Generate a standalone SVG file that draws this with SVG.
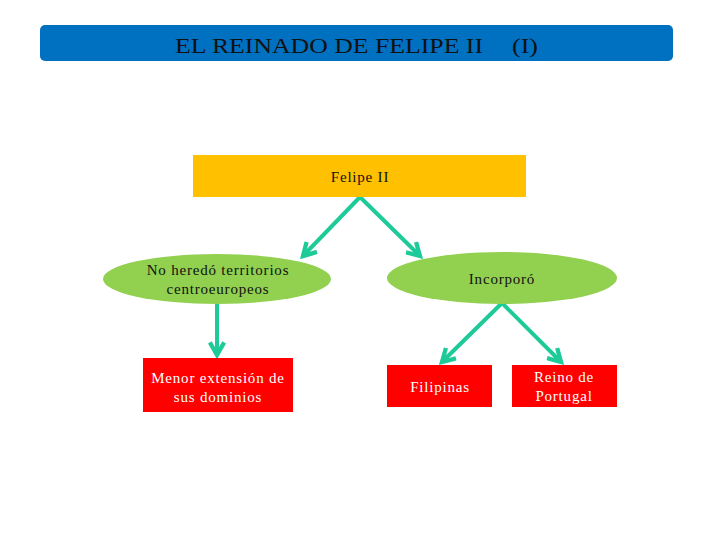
<svg xmlns="http://www.w3.org/2000/svg" width="720" height="540" viewBox="0 0 720 540">
<defs>
<style>
.t{font-family:"Liberation Serif","Times New Roman",serif;font-size:15px;text-anchor:middle;letter-spacing:0.8px}
.dk{fill:#111}
.wh{fill:#fff}
.tt{font-family:"Liberation Serif","Times New Roman",serif;font-size:22px;fill:#111}
.cn{stroke:#1ECB98;stroke-width:4;fill:none;marker-end:url(#ah)}
</style>
<marker id="ah" viewBox="0 0 10 10" refX="8" refY="5" markerWidth="4.5" markerHeight="4.5" orient="auto" markerUnits="strokeWidth">
<path d="M1,1 L8,5 L1,9" fill="none" stroke="#1ECB98" stroke-width="2.4"/>
</marker>
</defs>
<rect width="720" height="540" fill="#fff"/>
<g id="title">
<rect x="40" y="25" width="633" height="36" rx="5" fill="#0070C0"/>
<text class="tt" x="175" y="53" textLength="308" lengthAdjust="spacingAndGlyphs">EL REINADO DE FELIPE II</text>
<text class="tt" x="512" y="53" textLength="26" lengthAdjust="spacingAndGlyphs">(I)</text>
</g>
<g id="connectors">
<path class="cn" d="M360,197 L303,256"/>
<path class="cn" d="M360,197 L420,256"/>
<path class="cn" d="M217,303 L217,355"/>
<path class="cn" d="M502,303 L442,362"/>
<path class="cn" d="M502,303 L561,362"/>
</g>
<g id="felipe">
<rect x="193" y="155" width="333" height="42" fill="#FFC000"/>
<text class="t dk" x="360" y="182">Felipe II</text>
</g>
<g id="noheredo">
<ellipse cx="217" cy="279" rx="114" ry="25" fill="#92D050"/>
<text class="t dk" x="218" y="275">No heredó territorios</text>
<text class="t dk" x="218" y="294">centroeuropeos</text>
</g>
<g id="incorporo">
<ellipse cx="502" cy="278" rx="115" ry="26" fill="#92D050"/>
<text class="t dk" x="502" y="284">Incorporó</text>
</g>
<g id="menor">
<rect x="143" y="358" width="150" height="54" fill="#FF0000"/>
<text class="t wh" x="218" y="383">Menor extensión de</text>
<text class="t wh" x="218" y="402">sus dominios</text>
</g>
<g id="filipinas">
<rect x="387" y="365" width="105" height="42" fill="#FF0000"/>
<text class="t wh" x="440" y="392">Filipinas</text>
</g>
<g id="portugal">
<rect x="512" y="365" width="105" height="42" fill="#FF0000"/>
<text class="t wh" x="564" y="382">Reino de</text>
<text class="t wh" x="564" y="401">Portugal</text>
</g>
</svg>
